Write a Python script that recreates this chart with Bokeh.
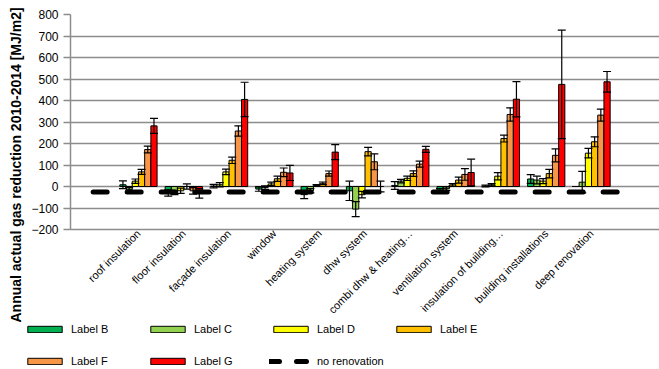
import math
from bokeh.plotting import figure
from bokeh.layouts import column
from bokeh.models import (ColumnDataSource, FactorRange, Whisker, TeeHead, Legend,
                          LegendItem, Title, FixedTicker, Range1d)
from bokeh.transform import dodge
from bokeh.embed import file_html
from bokeh.resources import INLINE

# ---------------- data ----------------
categories = ["roof insulation", "floor insulation", "façade insulation", "window",
              "heating system", "dhw system", "combi dhw & heating…", "ventilation system",
              "insulation of building…", "building installations", "deep renovation"]
x_factors = [" "] + categories + ["  "]

series_names = ["Label B", "Label C", "Label D", "Label E", "Label F", "Label G"]
series_colors = ["#00B050", "#92D050", "#FFFF00", "#FFC000", "#F79646", "#FF0000"]

label_b = [8, -30, 2, -12, -38, -20, 5, -20, 2, 35, 0]
err_b = [18, 15, 8, 10, 18, 45, 18, 10, 4, 20, 0]
label_c = [-15, -28, 8, -5, -20, -105, 25, -10, 8, 30, 20]
err_c = [10, 10, 10, 8, 10, 35, 8, 8, 5, 18, 50]
label_d = [25, -20, 68, 12, 5, -38, 38, 8, 48, 25, 155]
err_d = [10, 12, 13, 8, 4, 15, 10, 6, 17, 12, 22]
label_e = [68, 0, 122, 36, 15, 162, 60, 30, 223, 60, 208]
err_e = [12, 12, 15, 12, 6, 20, 13, 14, 16, 20, 23]
label_f = [172, -20, 258, 66, 60, 115, 104, 56, 335, 145, 332]
err_f = [16, 15, 24, 20, 12, 37, 14, 27, 31, 30, 28]
label_g = [282, -32, 405, 63, 160, 0, 173, 65, 406, 475, 487]
err_g = [35, 22, 80, 35, 35, 25, 14, 62, 82, 252, 48]

no_renovation = [-25, -25, -25, -25, -25, -25, -25, -25, -25, -25, -25, -25, -25]

y_ticks = [-200, -100, 0, 100, 200, 300, 400, 500, 600, 700, 800]

series_values = [label_b, label_c, label_d, label_e, label_f, label_g]
series_errors = [err_b, err_c, err_d, err_e, err_f, err_g]

# ---------------- main figure ----------------
FONT = "Liberation Sans"

p = figure(x_range=FactorRange(factors=x_factors), y_range=(-200, 800),
           frame_width=589, frame_height=215, output_backend="svg", toolbar_location=None,
           min_border_left=70, min_border_right=0, min_border_top=14, min_border_bottom=93)
p.frame_align = False
p.outline_line_color = None
p.background_fill_color = "white"
p.border_fill_color = "white"

bar_w = 0.137
for i, (name, col, vals, errs) in enumerate(zip(series_names, series_colors,
                                                 series_values, series_errors)):
    off = (i - 2.5) * bar_w
    src = ColumnDataSource(dict(
        cat=categories, val=vals,
        upper=[v + e for v, e in zip(vals, errs)],
        lower=[v - e for v, e in zip(vals, errs)]))
    p.vbar(x=dodge("cat", off, range=p.x_range), top="val", bottom=0, width=bar_w,
           source=src, fill_color=col, line_color="black", line_width=1)
    w = Whisker(base=dodge("cat", off, range=p.x_range), upper="upper", lower="lower",
                source=src, level="overlay", line_color="black", line_width=1.2,
                upper_head=TeeHead(size=8, line_color="black", line_width=1.2),
                lower_head=TeeHead(size=8, line_color="black", line_width=1.2))
    p.add_layout(w)

p.line(x=x_factors, y=no_renovation, line_color="black", line_width=5,
       line_dash="14 20", line_cap="round")

# axes & grid
p.xgrid.grid_line_color = None
p.ygrid.grid_line_color = "#8c8c8c"
p.ygrid.grid_line_width = 1.5
p.yaxis.ticker = FixedTicker(ticks=y_ticks)
p.yaxis.axis_line_color = "#8c8c8c"
p.yaxis.axis_line_width = 1.5
p.yaxis.major_tick_line_color = "#8c8c8c"
p.yaxis.major_tick_line_width = 1.5
p.yaxis.major_tick_out = 7
p.yaxis.major_tick_in = 0
p.yaxis.minor_tick_line_color = None
p.yaxis.major_label_standoff = 5
p.yaxis.major_label_text_font = FONT
p.yaxis.major_label_text_font_size = "12px"
p.yaxis.major_label_text_color = "black"

p.xaxis.axis_line_color = "#8c8c8c"
p.xaxis.axis_line_width = 1.5
p.xaxis.major_tick_line_color = None
p.xaxis.major_tick_out = 0
p.xaxis.major_tick_in = 0
p.xaxis.minor_tick_line_color = None
p.xaxis.major_label_orientation = math.pi / 4
p.xaxis.major_label_standoff = 2
p.xaxis.major_label_text_font = FONT
p.xaxis.major_label_text_font_size = "11px"
p.xaxis.major_label_text_color = "black"

# y-axis title
ytitle = Title(text="Annual actual gas reduction 2010-2014 [MJ/m2]", align="left",
               offset=-93, text_font=FONT, text_font_size="14px", text_font_style="bold",
               text_color="black", standoff=9)
p.add_layout(ytitle, "left")

# ---------------- legend figure ----------------
lg = figure(width=659, height=47, output_backend="svg", toolbar_location=None,
            x_axis_location=None, y_axis_location=None, min_border=0,
            x_range=Range1d(0, 1), y_range=Range1d(0, 1))
lg.frame_align = False
lg.outline_line_color = None
lg.grid.grid_line_color = None
lg.title.visible = False

nan = float("nan")
leg_r = []
for col in series_colors:
    leg_r.append(lg.vbar(x=[nan], top=[nan], width=1, fill_color=col,
                         line_color="black", line_width=1))
leg_nr = lg.line(x=[nan, nan], y=[nan, nan], line_color="black", line_width=5,
                 line_dash="10 17", line_cap="round")


def make_legend(items, loc):
    return Legend(items=items, orientation="horizontal", location=loc,
                  label_width=75, glyph_width=43, glyph_height=8, label_height=14,
                  label_standoff=5, spacing=0, padding=0, margin=0,
                  border_line_color=None, background_fill_alpha=0,
                  label_text_font=FONT, label_text_font_size="11px",
                  label_text_color="black")


leg1 = make_legend([LegendItem(label=series_names[k], renderers=[leg_r[k]]) for k in range(4)],
                   (23, 33))
leg2 = make_legend([LegendItem(label=series_names[4], renderers=[leg_r[4]]),
                    LegendItem(label=series_names[5], renderers=[leg_r[5]]),
                    LegendItem(label="no renovation", renderers=[leg_nr])],
                   (23, 1))
lg.add_layout(leg1)
lg.add_layout(leg2)

layout = column(p, lg, spacing=0)
open("out.html", "w").write(file_html(layout, INLINE))
